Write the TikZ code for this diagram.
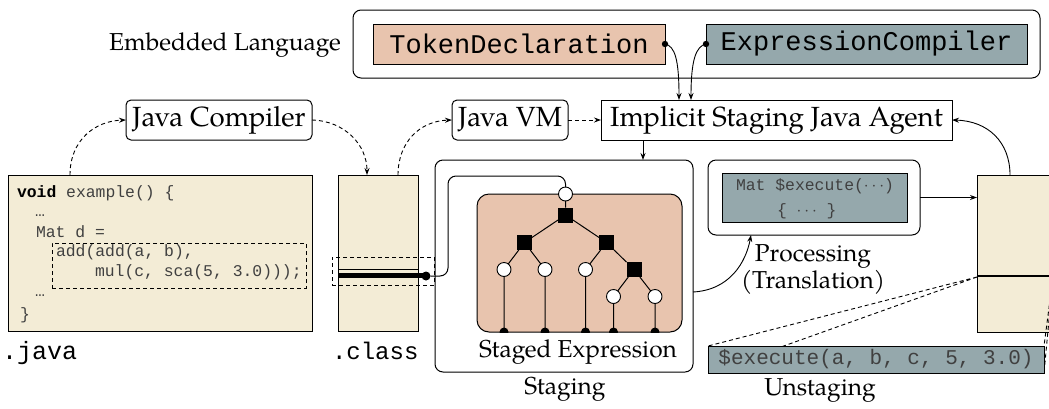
\documentclass[tikz,border=0pt]{standalone}
\usepackage{fontspec}
\setmainfont{TeX Gyre Pagella}
\setmonofont{Liberation Mono}
\usetikzlibrary{arrows.meta}
\definecolor{cream}{RGB}{243,236,214}
\definecolor{peach}{RGB}{232,196,174}
\definecolor{slate}{RGB}{149,168,172}
\tikzset{
  every node/.style={inner sep=0pt, outer sep=0pt},
  lbl/.style={font=\fontsize{24.5}{27}\selectfont},
  toollbl/.style={font=\fontsize{27.7}{30}\selectfont},
  rbox/.style={draw, line width=1pt, rounded corners=5pt, fill=white, toollbl},
  sbox/.style={draw, line width=1pt, fill=white, toollbl},
  bigbox/.style={draw, line width=1pt, rounded corners=8pt, fill=white},
  filebox/.style={draw, line width=1pt, fill=cream},
  monobig/.style={font=\fontsize{27}{30}\ttfamily},
  codefont/.style={font=\fontsize{16.4}{20}\ttfamily\color{black!75}},
  arr/.style={-{Stealth[length=7pt,width=5pt]}, line width=0.9pt},
  darr/.style={arr, dash pattern=on 4pt off 3pt},
  dline/.style={line width=0.9pt, dash pattern=on 4pt off 3pt},
  tc/.style={circle, draw, line width=0.9pt, fill=white, minimum size=14pt},
  tsq/.style={rectangle, fill=black, minimum size=15pt},
  tedge/.style={line width=1pt},
}
\begin{document}
\begin{tikzpicture}[x=1pt,y=-1pt]
\useasboundingbox (0,0) rectangle (1049,408);

% embedded language
\node[lbl] (emb) at (225,45) {Embedded Language};
\node[bigbox, minimum width=687pt, minimum height=68pt] (embbox) at (696.5,44) {};
\node[draw, line width=1pt, fill=peach, monobig, minimum width=292pt, minimum height=40pt] (tok) at (519,44) {TokenDeclaration};
\node[draw, line width=1pt, fill=slate, monobig, minimum width=321pt, minimum height=40pt] (expc) at (866.5,44) {ExpressionCompiler};

% row of tools
\node[rbox, minimum width=186pt, minimum height=40pt] (jc) at (219,120) {Java Compiler};
\node[rbox, minimum width=116pt, minimum height=40pt] (jvm) at (510,120) {Java VM};
\node[sbox, minimum width=351pt, minimum height=40pt] (agent) at (776.5,120) {Implicit Staging Java Agent};

% files
\node[filebox, minimum width=304pt, minimum height=156pt] (java) at (160,253) {};
\node[filebox, minimum width=80pt, minimum height=156pt] (class) at (378,253) {};
\node[font=\fontsize{25}{28}\ttfamily, anchor=base west] (javalbl) at (2,359) {.java};
\node[font=\fontsize{24}{28}\ttfamily, anchor=base west] (classlbl) at (332,359) {.class};

% code
\node[codefont, anchor=base west] (l1) at (17,197) {\textbf{\color{black}void} example() \{};
\node[codefont, anchor=base west] (l2) at (35,216) {…};
\node[codefont, anchor=base west] (l3) at (36,237) {Mat d =};
\node[codefont, anchor=base west] (l4) at (56,256) {add(add(a, b),};
\node[codefont, anchor=base west] (l5) at (95,276) {mul(c, sca(5, 3.0)));};
\node[codefont, anchor=base west] (l6) at (35,296) {…};
\node[codefont, anchor=base west] (l7) at (20,319) {\}};
\node[draw, dline, minimum width=254pt, minimum height=45pt] (hl) at (179,265.5) {};

% class marker
\draw[line width=1pt] (338.5,269) -- (417.5,269);
\draw[line width=4.5pt] (338.5,275.5) -- (424,275.5);
\node[circle, fill=black, minimum size=9pt] (cdot) at (426,276) {};
\node[draw, dline, minimum width=102pt, minimum height=28pt] (chl) at (383,271) {};

% staging
\node[bigbox, minimum width=258pt, minimum height=212pt] (staging) at (564,266) {};
\node[draw, line width=1pt, rounded corners=12pt, fill=peach, minimum width=205pt, minimum height=138pt] (sexp) at (579.5,263) {};
\node[lbl] (sexplbl) at (578,352) {Staged Expression};
\node[lbl] (staginglbl) at (565,389) {Staging};

% tree
\node[tc] (r) at (565.5,194) {};
\node[tsq] (s0) at (565.5,215) {};
\node[tsq] (s1) at (524.5,242.5) {};
\node[tsq] (s2) at (606.5,242.5) {};
\node[tc] (c1) at (504,269.5) {};
\node[tc] (c2) at (545,269.5) {};
\node[tc] (c3) at (585.5,269.5) {};
\node[tsq] (s3) at (634,269.5) {};
\node[tc] (c4) at (613.5,296.5) {};
\node[tc] (c5) at (655,296.5) {};
\coordinate (f1) at (504,332);
\coordinate (f2) at (545,332);
\coordinate (f3) at (585.5,332);
\coordinate (f4) at (613.5,332);
\coordinate (f5) at (655,332);
\draw[tedge] (r) -- (s0) (s0) -- (s1) (s0) -- (s2) (s1) -- (c1) (s1) -- (c2)
  (s2) -- (c3) (s2) -- (s3) (s3) -- (c4) (s3) -- (c5)
  (c1) -- (f1) (c2) -- (f2) (c3) -- (f3) (c4) -- (f4) (c5) -- (f5);
\begin{scope}
  \clip (477,194) rectangle (682,332);
  \foreach \p in {f1,f2,f3,f4,f5} \fill (\p) circle (4.5);
\end{scope}

% connector from class to root
\draw[line width=1pt, rounded corners=8pt] (cdot) -- (448,276) -- (448,176) -- (565.5,176) -- (r.north);

% processing
\node[bigbox, minimum width=212pt, minimum height=75pt] (proc) at (814,197.5) {};
\node[draw, line width=1pt, fill=slate, minimum width=185pt, minimum height=49pt] (procin) at (814.5,197.5) {};
\node[codefont, anchor=base west] (p1) at (736,190) {Mat \$execute(\ensuremath{\cdots})};
\node[codefont, anchor=base west] (p2) at (777,215) {\{ \ensuremath{\cdots} \}};
\node[lbl, align=center] (proclbl) at (813,269.5) {Processing\\(Translation)};

% result file
\node[filebox, minimum width=103pt, minimum height=157pt] (res) at (1028.5,253.5) {};
\coordinate (resl) at (977,277);
\coordinate (resr) at (1053,277);
\draw[line width=2pt] (977,276) -- (1080,276);

% unstaging
\coordinate (exnw) at (708,346);
\coordinate (exsw) at (708,373);
\coordinate (exne) at (1044,346);
\coordinate (exse) at (1044,373);
\draw[dline] (resl) -- (exnw) (resl) -- (exsw) (resr) -- (exne) (resr) -- (exse);
\node[draw, line width=1pt, fill=slate, font=\fontsize{21}{24}\ttfamily\color{black!75}, minimum width=336pt, minimum height=27pt] (exec) at (876,359.5) {\$execute(a, b, c, 5, 3.0)};
\node[lbl] (unstlbl) at (820,390) {Unstaging};

% connectors
\draw[darr] (java.north west) ++(62,0) coordinate (jtop) .. controls (70,140) and (95,121) .. (jc.west);
\draw[darr] (jc.east) .. controls (345,121) and (367,145) .. (367,175);
\draw[darr] (398,175) .. controls (398,142) and (420,121) .. (jvm.west);
\draw[darr] (jvm.east) -- (agent.west);
\draw[arr] (643,140) -- (643,160);
\fill (tok.east) circle (3.2);
\fill (expc.west) circle (3.2);
\draw[arr] (tok.east) .. controls (675,46) and (679,60) .. (679,100);
\draw[arr] (expc.west) .. controls (696,46) and (691,60) .. (691,100);
\draw[arr] (staging.east |- 0,292) .. controls (730,290) and (746,262) .. (751,235);
\draw[arr] (proc.east) -- (res.west |- proc.east);
\draw[arr] (1010,175) .. controls (1010,142) and (988,121) .. (agent.east);
\end{tikzpicture}
\end{document}
